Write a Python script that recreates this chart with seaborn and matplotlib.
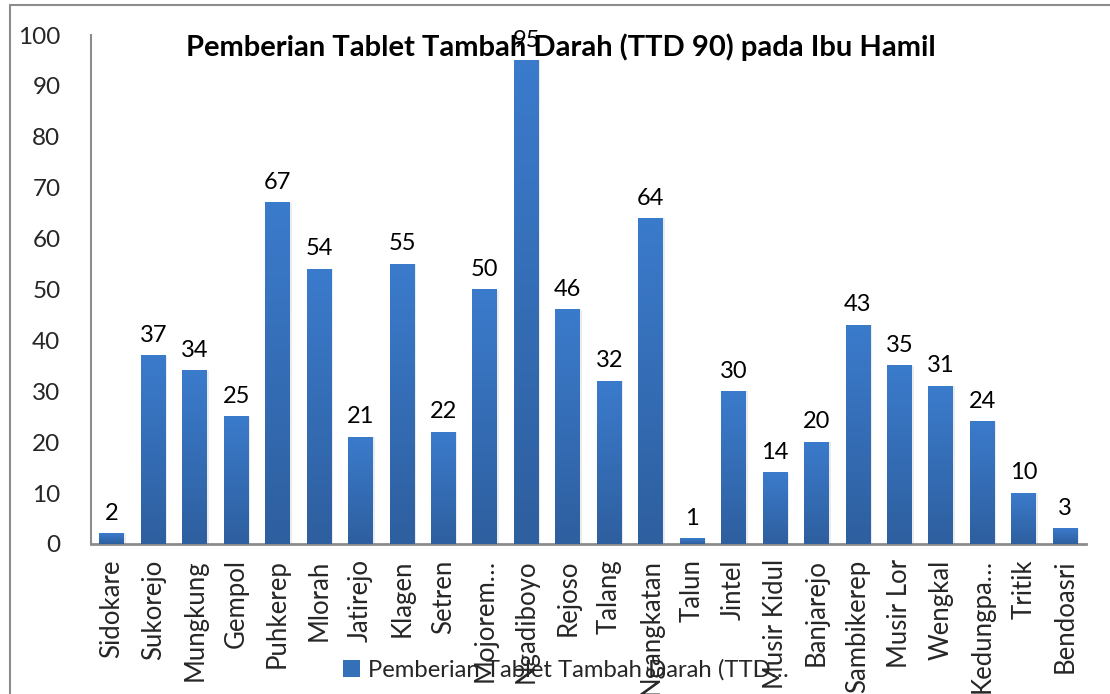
import matplotlib
matplotlib.use("Agg")
import matplotlib.pyplot as plt
import seaborn as sns
import numpy as np
import pandas as pd
from matplotlib.colors import LinearSegmentedColormap
from matplotlib.lines import Line2D
from matplotlib.patches import Rectangle

desa = ["Sidokare", "Sukorejo", "Mungkung", "Gempol", "Puhkerep", "Mlorah",
        "Jatirejo", "Klagen", "Setren", "Mojorem…", "Ngadiboyo", "Rejoso",
        "Talang", "Ngangkatan", "Talun", "Jintel", "Musir Kidul", "Banjarejo",
        "Sambikerep", "Musir Lor", "Wengkal", "Kedungpa…", "Tritik", "Bendoasri"]
nilai = [2, 37, 34, 25, 67, 54, 21, 55, 22, 50, 95, 46, 32, 64, 1, 30, 14, 20,
         43, 35, 31, 24, 10, 3]
judul = "Pemberian Tablet Tambah Darah (TTD 90) pada Ibu Hamil"
label_seri = "Pemberian Tablet Tambah Darah (TTD…"
yticks = [0, 10, 20, 30, 40, 50, 60, 70, 80, 90, 100]

df = pd.DataFrame({"desa": desa, "nilai": nilai})

sns.set_theme(style="white")
plt.rcParams["font.family"] = ["Lato", "DejaVu Sans"]

fig = plt.figure(figsize=(11.10, 6.94), dpi=100)
ax = fig.add_axes([91/1110, 150/694, (1086-91)/1110, (544-35)/694])

sns.barplot(data=df, x="desa", y="nilai", color="#3B7BCC", width=0.6,
            saturation=1, ax=ax, zorder=2)

cmap = LinearSegmentedColormap.from_list("g", ["#2E5F9F", "#3B7BCC"])
grad = np.linspace(0, 1, 256).reshape(-1, 1)
for p in ax.patches:
    x0, w, h = p.get_x(), p.get_width(), p.get_height()
    p.set_alpha(0)
    ax.add_patch(Rectangle((x0 + 0.04, 0), w, h, color="#ececec", zorder=1, lw=0))
    ax.imshow(grad, extent=(x0, x0 + w, 0, h), origin="lower", cmap=cmap,
              aspect="auto", zorder=3)
    ax.annotate(f"{int(round(h))}", (x0 + w / 2, h), xytext=(0, 7),
                textcoords="offset points", ha="center", va="bottom",
                fontsize=17, color="#000000", zorder=5)

ax.set_xlim(-0.5, len(desa) - 0.5)
ax.set_ylim(0, 100)
ax.set_yticks(yticks)
ax.set_yticklabels([str(t) for t in yticks], fontsize=17.5)
ax.set_xticks(range(len(desa)))
ax.set_xticklabels(desa, rotation=90, fontsize=18.5)
ax.set_xlabel("")
ax.set_ylabel("")
ax.tick_params(axis="y", length=0, pad=22)
ax.tick_params(axis="x", length=0, pad=11)
for s in ["top", "right"]:
    ax.spines[s].set_visible(False)
ax.spines["left"].set_color("#8c8c8c")
ax.spines["left"].set_linewidth(1.5)
ax.spines["bottom"].set_color("#8c8c8c")
ax.spines["bottom"].set_linewidth(2)
ax.set_axisbelow(False)

fig.text(561/1110, 1 - 47/694, judul, ha="center", va="center",
         fontsize=21, fontweight="bold", color="#000000")

handle = Rectangle((0, 0), 1, 1, facecolor="#3470B8", edgecolor="none")
fig.legend([handle], [label_seri], loc="center", bbox_to_anchor=(566/1110, 1 - 670/694),
           frameon=False, fontsize=17.2, handlelength=0.7, handleheight=0.7,
           handletextpad=0.35, borderpad=0)

fig.add_artist(Line2D([10/1110, 1.0], [1 - 5/694, 1 - 5/694], color="#8c8c8c", lw=1.5))
fig.add_artist(Line2D([10/1110, 10/1110], [0, 1 - 5/694], color="#8c8c8c", lw=1.5))

fig.savefig("out.png", dpi=100)
